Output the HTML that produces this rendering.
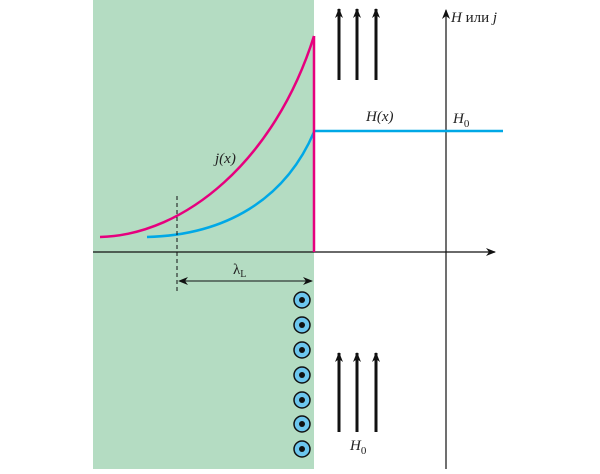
<!DOCTYPE html>
<html><head><meta charset="utf-8"><style>html,body{margin:0;padding:0;background:#fff}</style></head>
<body>
<svg width="600" height="469" viewBox="0 0 600 469" xmlns="http://www.w3.org/2000/svg" font-family="Liberation Serif, serif">
<defs>
<marker id="a" markerWidth="10" markerHeight="8" refX="9" refY="4" orient="auto" markerUnits="userSpaceOnUse"><path d="M0,0 L10,4 L0,8 L3,4 Z" fill="#111"/></marker>
</defs>
<rect x="93" y="0" width="221" height="469" fill="#b4dcc2"/>
<line x1="93" y1="252" x2="495" y2="252" stroke="#111" stroke-width="1.2" marker-end="url(#a)"/>
<line x1="446" y1="469" x2="446" y2="10" stroke="#111" stroke-width="1.2" marker-end="url(#a)"/>
<path d="M100,237 C185,235 275,160 314,36" fill="none" stroke="#e6007e" stroke-width="2.5"/>
<path d="M147,237 C225,235 285,200 314,132" fill="none" stroke="#00a8e6" stroke-width="2.5"/>
<line x1="314" y1="131" x2="503" y2="131" stroke="#00a8e6" stroke-width="2.5"/>
<line x1="314" y1="36" x2="314" y2="252" stroke="#e6007e" stroke-width="2.5"/>
<line x1="177" y1="196" x2="177" y2="291" stroke="#111" stroke-width="1" stroke-dasharray="4,3"/>
<line x1="180" y1="281" x2="312" y2="281" stroke="#111" stroke-width="1" marker-end="url(#a)"/>
<path d="M178,281 l10,-4 l-3,4 l3,4 z" fill="#111"/>
<g stroke="#111" stroke-width="3" marker-end="url(#a)">
<line x1="339" y1="80" x2="339" y2="9"/><line x1="357" y1="80" x2="357" y2="9"/><line x1="376" y1="80" x2="376" y2="9"/>
<line x1="339" y1="432" x2="339" y2="353"/><line x1="357" y1="432" x2="357" y2="353"/><line x1="376" y1="432" x2="376" y2="353"/>
</g>
<g fill="#6cc6ee" stroke="#111" stroke-width="1.5">
<circle cx="302" cy="300" r="8"/><circle cx="302" cy="325" r="8"/><circle cx="302" cy="350" r="8"/><circle cx="302" cy="375" r="8"/><circle cx="302" cy="400" r="8"/><circle cx="302" cy="424" r="8"/><circle cx="302" cy="449" r="8"/>
</g>
<g fill="#111">
<circle cx="302" cy="300" r="3"/><circle cx="302" cy="325" r="3"/><circle cx="302" cy="350" r="3"/><circle cx="302" cy="375" r="3"/><circle cx="302" cy="400" r="3"/><circle cx="302" cy="424" r="3"/><circle cx="302" cy="449" r="3"/>
</g>
<g font-size="15" font-style="italic" fill="#222">
<text x="451" y="22">H <tspan font-style="normal">или</tspan> j</text>
<text x="366" y="121">H(x)</text>
<text x="453" y="123">H<tspan font-size="11" font-style="normal" dy="4">0</tspan></text>
<text x="215" y="163">j(x)</text>
<text x="350" y="450">H<tspan font-size="11" font-style="normal" dy="4">0</tspan></text>
</g>
<text x="233" y="274" font-size="15" fill="#222">λ<tspan font-size="10" dy="3">L</tspan></text>
</svg>
</body></html>
